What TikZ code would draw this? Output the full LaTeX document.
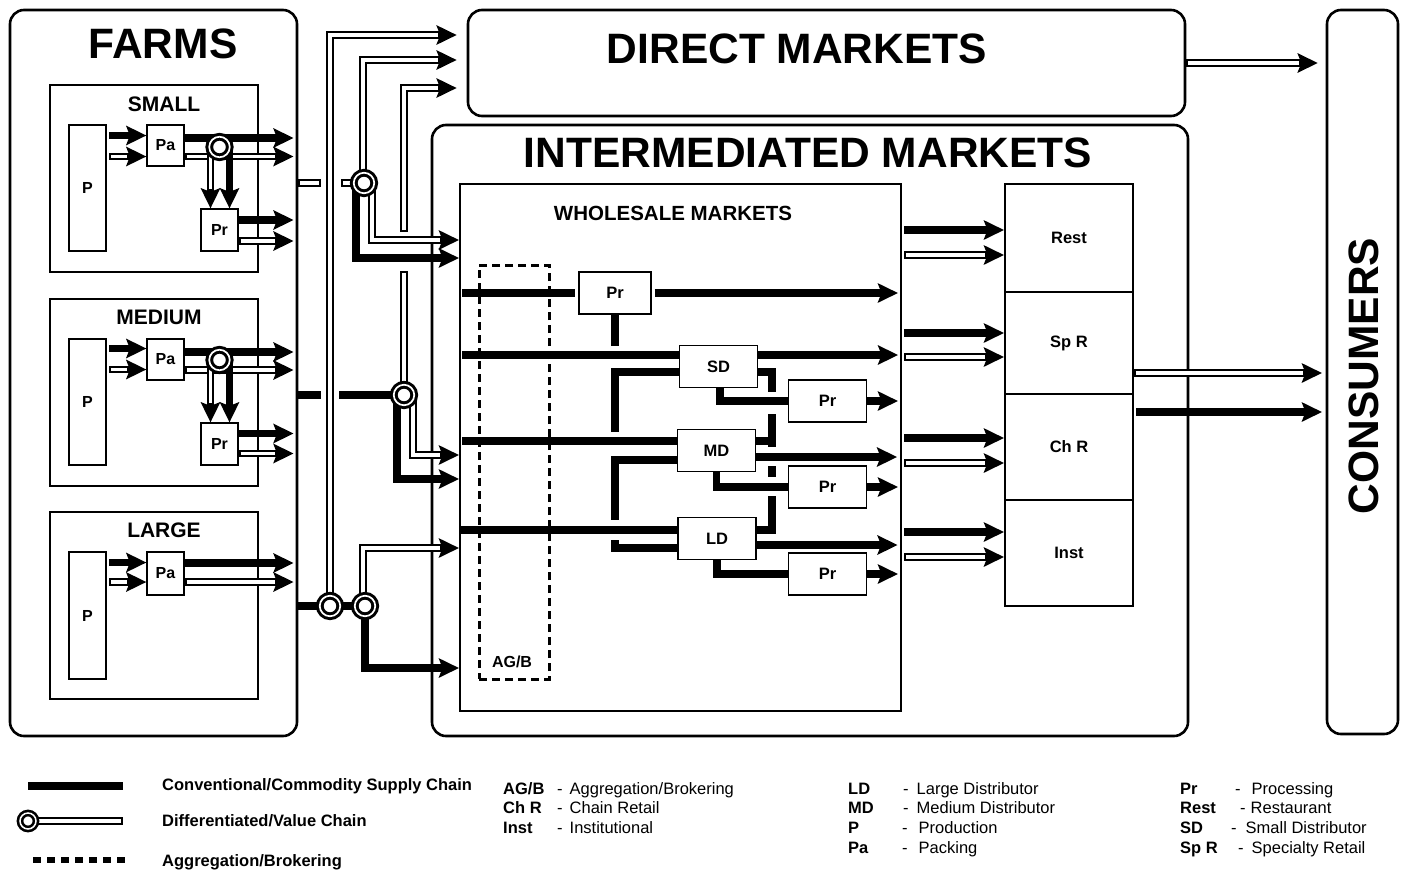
\documentclass[tikz,border=0pt]{standalone}
\usepackage{fontspec}
\setmainfont{Liberation Sans}
\usetikzlibrary{arrows.meta,positioning,calc}
\tikzset{
  bigbox/.style={
    draw,
    rounded corners=14pt,
    line width=2.6pt
  },
  farmbox/.style={
    draw,
    line width=1.2pt
  },
  unitbox/.style={
    draw,
    fill=white,
    line width=1.2pt,
    inner sep=0pt,
    font=\fontsize{16}{19}\selectfont\bfseries
  },
  wbox/.style={
    unitbox,
    minimum width=78pt,
    minimum height=42pt,
    font=\fontsize{16.5}{19}\selectfont\bfseries
  },
  retailbox/.style={
    draw,
    fill=white,
    line width=2pt,
    inner sep=0pt,
    minimum width=128pt,
    font=\fontsize{16.5}{20}\selectfont\bfseries
  },
  titletext/.style={
    inner sep=0pt,
    font=\fontsize{42.5}{50}\selectfont\bfseries
  },
  farmtext/.style={
    inner sep=0pt,
    font=\fontsize{21}{25}\selectfont\bfseries
  },
  convline/.style={
    line width=7.5pt
  },
  convarrow/.style={
    convline,
    -{Stealth[length=20pt,width=19pt,inset=3.5pt]}
  },
  valueline/.style={
    line width=7.5pt,
    postaction={draw=white, line width=3.4pt, shorten <=2pt, shorten >=2pt}
  },
  valuearrow/.style={
    line width=7.5pt,
    -{Stealth[length=20pt,width=19pt,inset=3.5pt]},
    postaction={draw=white, line width=3.4pt, -, shorten <=2pt, shorten >=19pt}
  },
  junction/.style={
    circle,
    draw,
    fill=white,
    line width=3pt,
    double=white,
    double distance=1.7pt,
    minimum size=20.5pt,
    inner sep=0pt
  },
  legendtext/.style={
    inner sep=0pt,
    anchor=base west,
    font=\fontsize{16.5}{20}\selectfont
  },
  legendbold/.style={
    legendtext,
    font=\fontsize{16.5}{20}\selectfont\bfseries
  }
}

\begin{document}
\begin{tikzpicture}[x=1pt,y=-1pt]
\useasboundingbox (0,0) rectangle (1403,871);

% main blocks
\node[bigbox, minimum width=287pt, minimum height=726pt] (farms) at (153.5,373) {};
\node[titletext] (farmstitle) at (163,44) {FARMS};
\node[bigbox, minimum width=717pt, minimum height=106pt] (direct) at (826.5,63) {};
\node[titletext] (directtitle) at (797,49) {DIRECT MARKETS};
\node[bigbox, minimum width=756pt, minimum height=611pt] (inter) at (810,430.5) {};
\node[titletext] (intertitle) at (808,153) {INTERMEDIATED MARKETS};
\node[bigbox, minimum width=71pt, minimum height=724pt] (consumers) at (1362.5,372) {};
\node[titletext, rotate=90] (constitle) at (1364,376) {CONSUMERS};

% small farm
\node[farmbox, minimum width=208pt, minimum height=187pt] (small) at (154,178.5) {};
\node[farmtext] (smalltxt) at (164,104) {SMALL};
\node[unitbox, minimum width=37pt, minimum height=126pt] (smallP) at (87.5,188) {P};
\node[unitbox, minimum width=37pt, minimum height=41pt] (smallPa) at (165.5,145.5) {Pa};
\node[unitbox, minimum width=37pt, minimum height=42pt] (smallPr) at (219.5,230) {Pr};
\coordinate (smallJ) at (219.5,147);
\draw[convarrow] ([xshift=-37pt,yshift=10pt]smallPa.west) -- ([yshift=10pt]smallPa.west);
\draw[valuearrow] ([xshift=-37pt,yshift=-11pt]smallPa.west) -- ([yshift=-11pt]smallPa.west);
\draw[convarrow] ([yshift=7.5pt]smallPa.east) -- +(109,0);
\draw[valuearrow] ([yshift=-11pt]smallPa.east) -- +(109,0);
\draw[valuearrow] ([xshift=-9pt]smallJ) -- ([xshift=-9pt]smallPr.north);
\draw[convarrow] ([xshift=10pt]smallJ) -- ([xshift=10pt]smallPr.north);
\draw[convarrow] ([yshift=10pt]smallPr.east) -- +(55,0);
\draw[valuearrow] ([yshift=-11pt]smallPr.east) -- +(55,0);

% medium farm
\node[farmbox, minimum width=208pt, minimum height=187pt] (medium) at (154,392.5) {};
\node[farmtext] (mediumtxt) at (159,317) {MEDIUM};
\node[unitbox, minimum width=37pt, minimum height=126pt] (mediumP) at (87.5,402) {P};
\node[unitbox, minimum width=37pt, minimum height=41pt] (mediumPa) at (165.5,359.5) {Pa};
\node[unitbox, minimum width=37pt, minimum height=42pt] (mediumPr) at (219.5,444) {Pr};
\coordinate (mediumJ) at (219.5,360);
\draw[convarrow] ([xshift=-37pt,yshift=11pt]mediumPa.west) -- ([yshift=11pt]mediumPa.west);
\draw[valuearrow] ([xshift=-37pt,yshift=-10pt]mediumPa.west) -- ([yshift=-10pt]mediumPa.west);
\draw[convarrow] ([yshift=7.5pt]mediumPa.east) -- +(109,0);
\draw[valuearrow] ([yshift=-10.5pt]mediumPa.east) -- +(109,0);
\draw[valuearrow] ([xshift=-9pt]mediumJ) -- ([xshift=-9pt]mediumPr.north);
\draw[convarrow] ([xshift=10pt]mediumJ) -- ([xshift=10pt]mediumPr.north);
\draw[convarrow] ([yshift=10.5pt]mediumPr.east) -- +(55,0);
\draw[valuearrow] ([yshift=-9.5pt]mediumPr.east) -- +(55,0);

% large farm
\node[farmbox, minimum width=208pt, minimum height=187pt] (large) at (154,605.5) {};
\node[farmtext] (largetxt) at (164,530) {LARGE};
\node[unitbox, minimum width=37pt, minimum height=127pt] (largeP) at (87.5,615.5) {P};
\node[unitbox, minimum width=37pt, minimum height=43pt] (largePa) at (165.5,573.5) {Pa};
\draw[convarrow] ([xshift=-37pt,yshift=11pt]largePa.west) -- ([yshift=11pt]largePa.west);
\draw[valuearrow] ([xshift=-37pt,yshift=-8.5pt]largePa.west) -- ([yshift=-8.5pt]largePa.west);
\draw[convarrow] ([yshift=10.5pt]largePa.east) -- +(109,0);
\draw[valuearrow] ([yshift=-8.5pt]largePa.east) -- +(109,0);

% wholesale markets
\node[draw, line width=2pt, minimum width=441pt, minimum height=527pt] (wholesale) at (680.5,447.5) {};
\node[farmtext, font=\fontsize{20.5}{24}\selectfont\bfseries] (wholesaletxt) at (673,213) {WHOLESALE MARKETS};
\node[wbox, minimum width=72pt] (whPr) at (615,293) {Pr};
\node[wbox] (SD) at (718.5,366.5) {SD};
\node[wbox] (MD) at (716.5,450.5) {MD};
\node[wbox] (LD) at (717,538.5) {LD};
\node[wbox] (prSD) at (827.5,401) {Pr};
\node[wbox] (prMD) at (827.5,487) {Pr};
\node[wbox] (prLD) at (827.5,574) {Pr};

% links out of the farms
\coordinate (J1) at (364,183);
\coordinate (J2) at (404,395);
\coordinate (J3) at (330,606);
\coordinate (J4) at (365,606);
\draw[valueline] (farms.east |- J1) -- ++(23,0);
\draw[valueline] ([xshift=-23pt]J1) -- (J1);
\draw[convline] (farms.east |- J2) -- ++(23,0);
\draw[convline] ([xshift=-65pt]J2) -- (J2);
\draw[convline] (farms.east |- J3) -- (J4);
\draw[valuearrow] (J3) |- ([xshift=-10pt,yshift=28pt]direct.west);
\draw[valuearrow] ([xshift=-1pt]J1) |- ([xshift=-10pt,yshift=3pt]direct.west);
\draw[valueline] (J2) -- (404,271);
\draw[valuearrow] (404,232) |- ([xshift=-10pt,yshift=-25pt]direct.west);
\draw[valuearrow] ([xshift=8pt]J1) |- ([yshift=207.5pt]wholesale.west);
\draw[convarrow] ([xshift=-8pt]J1) |- ([yshift=189.5pt]wholesale.west);
\draw[valuearrow] ([xshift=9pt]J2) |- ([yshift=-7.5pt]wholesale.west);
\draw[convarrow] ([xshift=-7pt]J2) |- ([yshift=-31.5pt]wholesale.west);
\draw[valuearrow] ([xshift=-2pt]J4) |- ([yshift=-100.5pt]wholesale.west);
\draw[convarrow] (J4) |- ([yshift=-220.5pt]wholesale.west);

% inside wholesale
\draw[convline, shorten >=3pt] (462,293) -- (whPr.west);
\draw[convarrow, shorten <=3pt, shorten >=4pt] (whPr.east) -- (whPr.east -| wholesale.east);
\draw[convline] (whPr.south) -- ++(0,31);
\draw[convline] ([yshift=-5.5pt]SD.west) -| (615,432);
\draw[convline] ([yshift=-9.5pt]MD.west) -| (615,520);
\draw[convline] ([yshift=-9.5pt]LD.west) -| (615,540);
\draw[convline] (462,355) -- ([yshift=11.5pt]SD.west);
\draw[convarrow] ([yshift=11.5pt]SD.east) -- +(140,0);
\draw[convline] (462,441) -- ([yshift=9.5pt]MD.west);
\draw[convarrow] ([yshift=-6.5pt]MD.east) -- +(141,0);
\draw[convline] (460,530) -- ([yshift=8.5pt]LD.west);
\draw[convarrow] ([yshift=-6.5pt]LD.east) -- +(141,0);
\draw[convline] ([xshift=1.5pt]SD.south) |- (prSD.west);
\draw[convline] (MD.south) |- (prMD.west);
\draw[convline] (LD.south) |- (prLD.west);
\draw[convarrow, shorten >=4pt] (prSD.east) -- (prSD.east -| wholesale.east);
\draw[convarrow, shorten >=4pt] (prMD.east) -- (prMD.east -| wholesale.east);
\draw[convarrow, shorten >=4pt] (prLD.east) -- (prLD.east -| wholesale.east);
\draw[convline] ([yshift=-5.5pt]SD.east) -| (772,392);
\draw[convline] ([yshift=9.5pt]MD.east) -| (772,414);
\draw[convline] (772,441) -- (772,447);
\draw[convline] (772,466) -- (772,477);
\draw[convline] ([yshift=8.5pt]LD.east) -| (772,496);

% aggregation / brokering
\node[draw, line width=3pt, dash pattern=on 8pt off 5pt, minimum width=70pt, minimum height=414pt] (agb) at (514,472) {};
\node[inner sep=0pt, font=\fontsize{16}{19}\selectfont\bfseries] (agbtxt) at (512,662) {AG/B};

% retail
\node[retailbox, minimum height=108pt] (rest) at (1069,238) {Rest};
\node[retailbox, minimum height=102pt] (spr) at (1069,343) {Sp R};
\node[retailbox, minimum height=106pt] (chr) at (1069,447) {Ch R};
\node[retailbox, minimum height=106pt] (inst) at (1069,553) {Inst};
\draw[convarrow] ([xshift=-100pt,yshift=8pt]rest.west) -- ([yshift=8pt]rest.west);
\draw[valuearrow] ([xshift=-100pt,yshift=-17pt]rest.west) -- ([yshift=-17pt]rest.west);
\draw[convarrow] ([xshift=-100pt,yshift=10pt]spr.west) -- ([yshift=10pt]spr.west);
\draw[valuearrow] ([xshift=-100pt,yshift=-14pt]spr.west) -- ([yshift=-14pt]spr.west);
\draw[convarrow] ([xshift=-100pt,yshift=9pt]chr.west) -- ([yshift=9pt]chr.west);
\draw[valuearrow] ([xshift=-100pt,yshift=-16pt]chr.west) -- ([yshift=-16pt]chr.west);
\draw[convarrow] ([xshift=-100pt,yshift=21pt]inst.west) -- ([yshift=21pt]inst.west);
\draw[valuearrow] ([xshift=-100pt,yshift=-4pt]inst.west) -- ([yshift=-4pt]inst.west);

% to consumers
\draw[valuearrow] ([yshift=-30pt]spr.east) -- +(188,0);
\draw[convarrow] ([xshift=2pt,yshift=35pt]chr.east) -- +(186,0);
\draw[valuearrow] (direct.east) -- +(131.5,0);

% junctions on top
\node[junction] (smallJc) at (smallJ) {};
\node[junction] (mediumJc) at (mediumJ) {};
\node[junction] (J1c) at (J1) {};
\node[junction] (J2c) at (J2) {};
\node[junction] (J3c) at (J3) {};
\node[junction] (J4c) at (J4) {};

% legend
\draw[line width=8pt] (28,786) -- (123,786);
\coordinate (legJ) at (28,821);
\draw[valueline] (legJ) -- (123,821);
\node[junction, minimum size=16pt, line width=2.6pt, double distance=1.5pt] (legJc) at (legJ) {};
\draw[line width=6pt, dash pattern=on 8pt off 6pt] (33,860) -- (125,860);
\node[legendbold] (legconv) at (162,790) {Conventional/Commodity Supply Chain};
\node[legendbold] (legvalue) at (162,826) {Differentiated/Value Chain};
\node[legendbold] (legagb) at (162,866) {Aggregation/Brokering};

\node[legendbold] (abAGB) at (503,794) {AG/B};
\node[legendtext] (dsAGB) at (557,794) {-\hspace{7pt}Aggregation/Brokering};
\node[legendbold] (abChR) at (503,813) {Ch R};
\node[legendtext] (dsChR) at (557,813) {-\hspace{7pt}Chain Retail};
\node[legendbold] (abInst) at (503,833) {Inst};
\node[legendtext] (dsInst) at (557,833) {-\hspace{7pt}Institutional};

\node[legendbold] (abLD) at (848,794) {LD};
\node[legendtext] (dsLD) at (903,794) {-\hspace{8pt}Large Distributor};
\node[legendbold] (abMD) at (848,813) {MD};
\node[legendtext] (dsMD) at (903,813) {-\hspace{8pt}Medium Distributor};
\node[legendbold] (abP) at (848,833) {P};
\node[legendtext] (dsP) at (902,833) {-\hspace{11pt}Production};
\node[legendbold] (abPa) at (848,853) {Pa};
\node[legendtext] (dsPa) at (902,853) {-\hspace{11pt}Packing};

\node[legendbold] (abPr) at (1180,794) {Pr};
\node[legendtext] (dsPr) at (1235,794) {-\hspace{11pt}Processing};
\node[legendbold] (abRest) at (1180,813) {Rest};
\node[legendtext] (dsRest) at (1240,813) {-\hspace{5pt}Restaurant};
\node[legendbold] (abSD) at (1180,833) {SD};
\node[legendtext] (dsSD) at (1231,833) {-\hspace{9pt}Small Distributor};
\node[legendbold] (abSpR) at (1180,853) {Sp R};
\node[legendtext] (dsSpR) at (1238,853) {-\hspace{8pt}Specialty Retail};
\end{tikzpicture}
\end{document}
